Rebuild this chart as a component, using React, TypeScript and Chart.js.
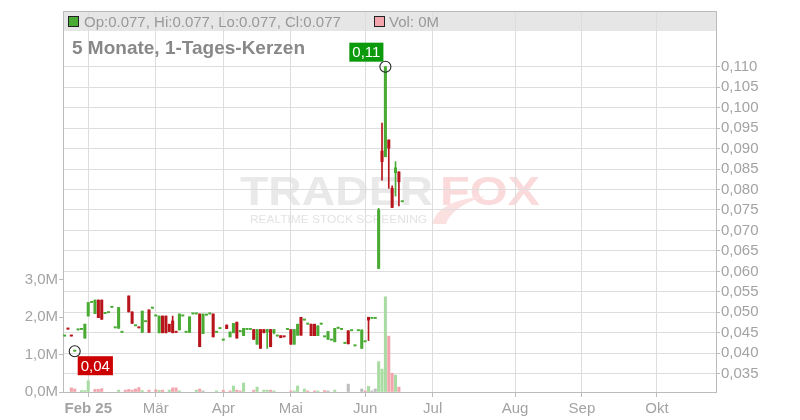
import React, { useEffect, useRef } from "react";
import { Chart, registerables } from "chart.js";

Chart.register(...registerables);

// ---- data (one entry per trading-day slot) ----
const opens: (number | null)[] = [
  0.0442, 0.0461, 0.0443, 0.0405, 0.0457, 0.0458, 0.0437, 0.0491, 0.0524, 0.0497,
  0.0530, 0.0530, 0.0497, 0.0499, 0.0512, 0.0462, 0.0461, 0.0451, null, 0.0540,
  0.0501, 0.0467, 0.0463, 0.0451, 0.0477, 0.0506, 0.0510, 0.0491, 0.0450, 0.0491,
  0.0491, 0.0471, 0.0479, 0.0452, 0.0457, 0.0491, 0.0451, 0.0451, 0.0496, 0.0496,
  0.0496, 0.0448, 0.0493, 0.0496, 0.0496, 0.0451, 0.0460, 0.0432, 0.0469, 0.0440,
  0.0450, 0.0476, 0.0453, 0.0443, 0.0458, 0.0458, 0.0458, 0.0422, 0.0458, 0.0458,
  0.0452, 0.0458, 0.0450, 0.0442, 0.0443, 0.0441, 0.0458, 0.0458, 0.0422, 0.0444,
  0.0488, 0.0481, 0.0471, 0.0471, 0.0471, 0.0443, 0.0471, 0.0440, 0.0434, 0.0432,
  0.0428, 0.0461, 0.0458, 0.0424, 0.0455, 0.0455, 0.0418, 0.0455, 0.0412, 0.0428,
  0.0488, 0.0485, 0.0485, 0.0607, 0.0894, 0.0880, 0.0921, 0.0803, 0.0841, 0.0843,
  0.0770,
];
const highs: (number | null)[] = [
  0.0442, 0.0461, 0.0443, 0.0405, 0.0457, 0.0458, 0.0471, 0.0524, 0.0524, 0.0530,
  0.0530, 0.0530, 0.0497, 0.0499, 0.0512, 0.0462, 0.0512, 0.0451, null, 0.0540,
  0.0501, 0.0467, 0.0463, 0.0503, 0.0477, 0.0506, 0.0510, 0.0491, 0.0491, 0.0491,
  0.0491, 0.0471, 0.0491, 0.0452, 0.0496, 0.0491, 0.0451, 0.0489, 0.0496, 0.0496,
  0.0496, 0.0496, 0.0493, 0.0496, 0.0496, 0.0451, 0.0462, 0.0432, 0.0469, 0.0452,
  0.0473, 0.0476, 0.0453, 0.0461, 0.0458, 0.0458, 0.0458, 0.0458, 0.0458, 0.0458,
  0.0458, 0.0458, 0.0458, 0.0442, 0.0443, 0.0441, 0.0458, 0.0458, 0.0458, 0.0471,
  0.0488, 0.0481, 0.0471, 0.0471, 0.0471, 0.0467, 0.0471, 0.0440, 0.0453, 0.0432,
  0.0461, 0.0461, 0.0458, 0.0424, 0.0455, 0.0455, 0.0418, 0.0455, 0.0457, 0.0428,
  0.0488, 0.0485, 0.0485, 0.0754, 0.0962, 0.1100, 0.0921, 0.0809, 0.0868, 0.0843,
  0.0770,
];
const lows: (number | null)[] = [
  0.0442, 0.0459, 0.0442, 0.0405, 0.0457, 0.0458, 0.0437, 0.0491, 0.0524, 0.0497,
  0.0487, 0.0483, 0.0497, 0.0499, 0.0512, 0.0462, 0.0461, 0.0451, null, 0.0501,
  0.0473, 0.0467, 0.0462, 0.0451, 0.0477, 0.0451, 0.0510, 0.0491, 0.0450, 0.0450,
  0.0450, 0.0453, 0.0450, 0.0451, 0.0457, 0.0491, 0.0451, 0.0451, 0.0496, 0.0496,
  0.0416, 0.0448, 0.0493, 0.0496, 0.0440, 0.0451, 0.0460, 0.0432, 0.0460, 0.0440,
  0.0450, 0.0437, 0.0453, 0.0443, 0.0458, 0.0458, 0.0434, 0.0422, 0.0412, 0.0450,
  0.0412, 0.0416, 0.0447, 0.0442, 0.0438, 0.0440, 0.0458, 0.0422, 0.0422, 0.0444,
  0.0444, 0.0481, 0.0471, 0.0443, 0.0443, 0.0443, 0.0471, 0.0440, 0.0434, 0.0432,
  0.0428, 0.0461, 0.0458, 0.0424, 0.0423, 0.0455, 0.0418, 0.0455, 0.0412, 0.0428,
  0.0431, 0.0485, 0.0485, 0.0607, 0.0823, 0.0880, 0.0803, 0.0756, 0.0784, 0.0760,
  0.0770,
];
const closes: (number | null)[] = [
  0.0442, 0.0459, 0.0442, 0.0405, 0.0457, 0.0458, 0.0471, 0.0524, 0.0524, 0.0530,
  0.0487, 0.0483, 0.0497, 0.0499, 0.0512, 0.0462, 0.0512, 0.0451, null, 0.0501,
  0.0473, 0.0467, 0.0462, 0.0503, 0.0477, 0.0451, 0.0510, 0.0491, 0.0491, 0.0450,
  0.0450, 0.0453, 0.0450, 0.0451, 0.0496, 0.0491, 0.0451, 0.0489, 0.0496, 0.0496,
  0.0416, 0.0496, 0.0493, 0.0496, 0.0440, 0.0451, 0.0462, 0.0432, 0.0460, 0.0452,
  0.0473, 0.0437, 0.0453, 0.0461, 0.0458, 0.0458, 0.0434, 0.0458, 0.0412, 0.0450,
  0.0458, 0.0416, 0.0458, 0.0442, 0.0438, 0.0440, 0.0458, 0.0422, 0.0458, 0.0471,
  0.0444, 0.0481, 0.0471, 0.0443, 0.0443, 0.0467, 0.0471, 0.0440, 0.0453, 0.0432,
  0.0461, 0.0461, 0.0458, 0.0424, 0.0423, 0.0455, 0.0418, 0.0455, 0.0457, 0.0428,
  0.0481, 0.0485, 0.0485, 0.0750, 0.0868, 0.1100, 0.0901, 0.0756, 0.0853, 0.0819,
  0.0770,
];
// volume in millions
const volumes: number[] = [
  0, 0, 0.11, 0.08, 0, 0.04, 0.04, 0.30, 0, 0.07,
  0.07, 0.09, 0, 0, 0, 0, 0.05, 0, 0.05, 0.07,
  0.05, 0.08, 0.12, 0.04, 0, 0.05, 0, 0.06, 0.04, 0.05,
  0, 0.05, 0.11, 0.11, 0.03, 0, 0, 0, 0, 0.05,
  0.08, 0.03, 0, 0, 0, 0.03, 0, 0.05, 0, 0.03,
  0.16, 0.05, 0.03, 0.24, 0, 0, 0.05, 0.13, 0, 0.05,
  0.05, 0.05, 0.03, 0, 0, 0, 0, 0.03, 0.03, 0.16,
  0, 0.08, 0.03, 0, 0.03, 0.03, 0, 0.04, 0.03, 0,
  0.05, 0, 0, 0, 0.21, 0, 0, 0, 0.08, 0.03,
  0.15, 0.03, 0.08, 0.81, 0.61, 2.54, 1.49, 0.50, 0.45, 0.13,
  0,
];
// 1 = close above previous close, -1 = below, 0 = unchanged
const volumeTrend: number[] = [
  0, 0, -1, -1, 0, 1, 1, 1, 0, -1,
  -1, -1, 0, 0, 0, 0, 1, 0, -1, -1,
  -1, -1, -1, 1, 0, -1, 0, -1, 1, -1,
  0, 1, -1, -1, 1, 0, 0, 0, 0, 1,
  -1, 0, 0, 0, 0, 1, 0, -1, 0, -1,
  1, -1, -1, 1, 0, 0, -1, 1, 0, 1,
  1, -1, 1, 0, 0, 0, 0, -1, 1, 1,
  0, 1, -1, 0, -1, 1, 0, -1, 0, 0,
  1, 0, 0, 0, 0, 0, 0, 0, 0, -1,
  1, 0, 0, 1, 1, 1, -1, -1, 1, -1,
  0,
];
const monthTickSlots = [7, 27, 47, 67, 89, 109, 133.4, 153.2, 175.4];
const monthLabels = ["Feb 25", "Mär", "Apr", "Mai", "Jun", "Jul", "Aug", "Sep", "Okt"];
const priceTicks = [
  0.035, 0.04, 0.045, 0.05, 0.055, 0.06, 0.065, 0.07, 0.075, 0.08, 0.085, 0.09,
  0.095, 0.1, 0.105, 0.11,
];
const volumeTicks = [0, 1, 2, 3];
const titleText = "5 Monate, 1-Tages-Kerzen";

// ---- styling ----
const FONT = '"Liberation Sans", Arial, Helvetica, sans-serif';
const GREEN = "#4aab34";
const RED = "#b8141c";
const VOL_UP = "#a9dca3";
const VOL_DOWN = "#f2a5ad";
const VOL_FLAT = "#bdbdbd";
const GRID = "#dddddd";
const AXIS = "#bbbbbb";
const TICK_TEXT = "#a3a3a3";

function fmtComma(v: number, d: number) {
  return v.toFixed(d).replace(".", ",");
}

function stretchedText(
  ctx: CanvasRenderingContext2D,
  text: string,
  font: string,
  color: string,
  x: number,
  y: number,
  width: number
) {
  ctx.save();
  ctx.font = font;
  const w = ctx.measureText(text).width;
  ctx.translate(x, y);
  ctx.scale(width / w, 1);
  ctx.fillStyle = color;
  ctx.textBaseline = "alphabetic";
  ctx.textAlign = "left";
  ctx.fillText(text, 0, 0);
  ctx.restore();
}

const decorPlugin = {
  id: "decor",
  beforeDraw(chart: any) {
    const { ctx, chartArea: a } = chart;
    ctx.save();
    ctx.fillStyle = "#ffffff";
    ctx.fillRect(0, 0, chart.width, chart.height);
    // header band
    ctx.fillStyle = "#e6e6e6";
    ctx.fillRect(a.left, a.top, a.right - a.left, 20);
    // watermark
    stretchedText(ctx, "TRADER", `bold 40px ${FONT}`, "#e9e9e9", 240, 205, 193);
    stretchedText(ctx, "FOX", `bold 40px ${FONT}`, "#fadada", 440, 205, 100);
    stretchedText(ctx, "REALTIME STOCK SCREENING", `11.5px ${FONT}`, "#e3e3e3", 250, 223, 177);
    ctx.fillStyle = "#fbe0e0";
    ctx.beginPath();
    ctx.moveTo(432, 224);
    ctx.quadraticCurveTo(438, 200, 486, 196);
    ctx.quadraticCurveTo(452, 206, 446, 224);
    ctx.closePath();
    ctx.fill();
    ctx.restore();
  },
  afterDatasetsDraw(chart: any) {
    const { ctx } = chart;
    const xs = chart.scales.x;
    const ys = chart.scales.yPrice;
    let hiIdx = -1;
    let loIdx = -1;
    highs.forEach((h, i) => {
      if (h !== null && (hiIdx < 0 || h > (highs[hiIdx] as number))) hiIdx = i;
    });
    lows.forEach((l, i) => {
      if (l !== null && (loIdx < 0 || l < (lows[loIdx] as number))) loIdx = i;
    });
    ctx.save();
    const drawMarker = (idx: number, val: number, above: boolean, color: string) => {
      const cx = xs.getPixelForValue(idx);
      const cy = ys.getPixelForValue(val);
      ctx.strokeStyle = "#222";
      ctx.lineWidth = 1.1;
      ctx.beginPath();
      ctx.arc(cx, cy, 5.5, 0, Math.PI * 2);
      ctx.stroke();
      const text = fmtComma(val, 2);
      ctx.font = `15px ${FONT}`;
      const tw = ctx.measureText(text).width;
      const bw = tw + 6;
      const bh = 19;
      const bx = above ? cx - 2 - bw : cx + 3;
      const by = above ? cy - 5 - bh : cy + 5;
      ctx.fillStyle = color;
      ctx.fillRect(bx, by, bw, bh);
      ctx.fillStyle = "#ffffff";
      ctx.textAlign = "center";
      ctx.textBaseline = "middle";
      ctx.fillText(text, bx + bw / 2, by + bh / 2 + 1);
    };
    drawMarker(hiIdx, highs[hiIdx] as number, true, "#0b9a0b");
    drawMarker(loIdx, lows[loIdx] as number, false, "#cc0000");
    ctx.restore();
  },
  afterDraw(chart: any) {
    const { ctx, chartArea: a } = chart;
    ctx.save();
    // top border
    ctx.strokeStyle = AXIS;
    ctx.lineWidth = 1;
    ctx.beginPath();
    ctx.moveTo(a.left, a.top + 0.5);
    ctx.lineTo(a.right, a.top + 0.5);
    ctx.stroke();
    // legend squares
    const last = opens.length - 1;
    ctx.fillStyle = GREEN;
    ctx.fillRect(68.5, 16.5, 10, 10);
    ctx.strokeStyle = "#222";
    ctx.strokeRect(68.5, 16.5, 10, 10);
    ctx.fillStyle = VOL_DOWN;
    ctx.fillRect(374.5, 16.5, 10, 10);
    ctx.strokeRect(374.5, 16.5, 10, 10);
    ctx.fillStyle = "#999999";
    ctx.font = `15px ${FONT}`;
    ctx.textBaseline = "alphabetic";
    ctx.textAlign = "left";
    const f = (v: number | null) => (v as number).toFixed(3);
    ctx.fillText(
      `Op:${f(opens[last])}, Hi:${f(highs[last])}, Lo:${f(lows[last])}, Cl:${f(closes[last])}`,
      84,
      27
    );
    ctx.fillText(`Vol: ${Math.round(volumes[last])}M`, 389, 27);
    // title
    ctx.fillStyle = "#888888";
    ctx.font = `bold 19px ${FONT}`;
    ctx.fillText(titleText, 72, 54);
    ctx.restore();
  },
};

export default function App() {
  const ref = useRef<HTMLCanvasElement | null>(null);

  useEffect(() => {
    if (!ref.current) return;
    const slots = opens.map((_, i) => i);
    const bodyData: any[] = [];
    const bodyColors: string[] = [];
    const wickData: any[] = [];
    const wickColors: string[] = [];
    slots.forEach((i) => {
      const o = opens[i];
      const c = closes[i];
      const h = highs[i];
      const l = lows[i];
      if (o === null || c === null || h === null || l === null) return;
      const col = c >= o ? GREEN : RED;
      bodyData.push({ x: i, y: [o, c] });
      bodyColors.push(col);
      wickData.push({ x: i, y: [l, h] });
      wickColors.push(col);
    });
    const volData: any[] = [];
    const volColors: string[] = [];
    slots.forEach((i) => {
      if (volumes[i] > 0) {
        volData.push({ x: i, y: volumes[i] });
        volColors.push(volumeTrend[i] > 0 ? VOL_UP : volumeTrend[i] < 0 ? VOL_DOWN : VOL_FLAT);
      }
    });

    const chart = new Chart(ref.current, {
      type: "bar",
      data: {
        datasets: [
          {
            label: "Volumen",
            data: volData,
            backgroundColor: volColors,
            yAxisID: "yVol",
            barThickness: 2.4,
            grouped: false,
            order: 3,
          } as any,
          {
            label: "Docht",
            data: wickData,
            backgroundColor: wickColors,
            yAxisID: "yPrice",
            barThickness: 1,
            grouped: false,
            order: 2,
          } as any,
          {
            label: "Kerze",
            data: bodyData,
            backgroundColor: bodyColors,
            yAxisID: "yPrice",
            barThickness: 2.4,
            minBarLength: 1.2,
            grouped: false,
            order: 1,
          } as any,
        ],
      },
      options: {
        animation: false,
        responsive: false,
        events: [],
        layout: { padding: { top: 11, left: 0, right: 0, bottom: 0 } },
        plugins: {
          legend: { display: false },
          tooltip: { enabled: false },
          title: { display: false },
        },
        scales: {
          x: {
            type: "linear",
            min: -0.47,
            max: 192.9,
            offset: false,
            afterBuildTicks: (scale: any) => {
              scale.ticks = monthTickSlots.map((v) => ({ value: v }));
            },
            afterFit: (scale: any) => {
              scale.height = 28;
            },
            grid: {
              color: GRID,
              offset: false,
              tickLength: 5,
              tickColor: AXIS,
            },
            border: { color: AXIS },
            ticks: {
              autoSkip: false,
              maxRotation: 0,
              padding: 3,
              color: TICK_TEXT,
              font: (ctx: any) => ({
                family: FONT,
                size: 15,
                weight: ctx.index === 0 ? "bold" : "normal",
              }),
              callback: (_v: any, i: number) => monthLabels[i],
            },
          },
          yVol: {
            type: "linear",
            position: "left",
            min: 0,
            max: 10.16,
            afterBuildTicks: (scale: any) => {
              scale.ticks = volumeTicks.map((v) => ({ value: v }));
            },
            afterFit: (scale: any) => {
              scale.width = 63;
            },
            grid: {
              drawOnChartArea: false,
              tickLength: 4,
              tickColor: AXIS,
            },
            border: { color: AXIS },
            ticks: {
              padding: 1,
              color: TICK_TEXT,
              font: { family: FONT, size: 15 },
              callback: (v: any) => fmtComma(Number(v), 1) + "M",
            },
          },
          yPrice: {
            type: "linear",
            position: "right",
            min: 0.03054,
            max: 0.1236,
            afterBuildTicks: (scale: any) => {
              scale.ticks = priceTicks.map((v) => ({ value: v }));
            },
            afterFit: (scale: any) => {
              scale.width = 84;
            },
            grid: {
              color: GRID,
              tickLength: 4,
              tickColor: AXIS,
            },
            border: { color: AXIS },
            ticks: {
              padding: 1,
              color: TICK_TEXT,
              font: { family: FONT, size: 15 },
              callback: (v: any) => fmtComma(Number(v), 3),
            },
          },
        },
      } as any,
      plugins: [decorPlugin],
    });
    return () => chart.destroy();
  }, []);

  return (
    <div style={{ position: "absolute", left: 0, top: 0, width: 800, height: 420 }}>
      <canvas ref={ref} width={800} height={420} style={{ width: 800, height: 420, display: "block" }} />
    </div>
  );
}
